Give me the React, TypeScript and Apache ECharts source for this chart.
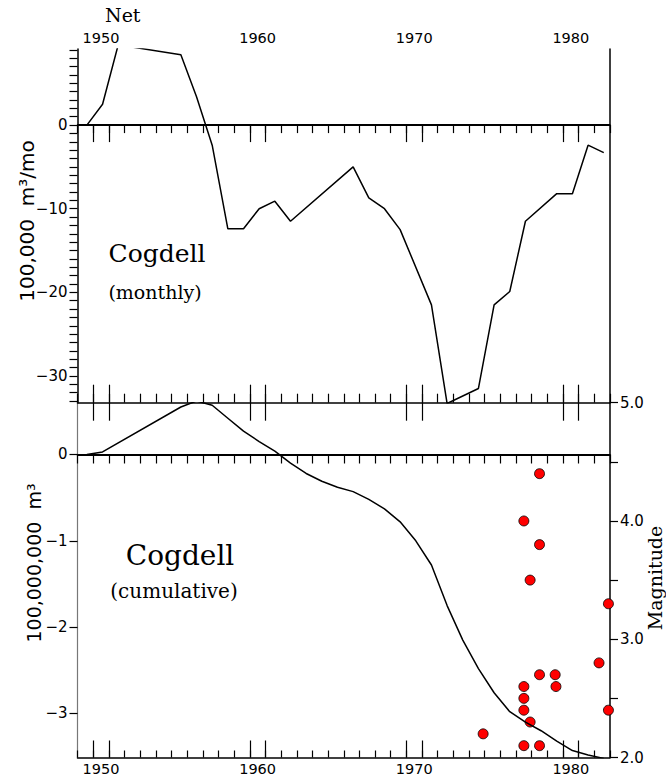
import React, { useEffect, useRef } from "react";
import * as echarts from "echarts";

// ---- data ----
const netYears = [1949.1, 1950.1, 1951.1, 1955.1, 1956.1, 1957.1, 1958.1, 1959.1, 1960.1, 1961.1, 1962.1, 1966.1, 1967.1, 1968.1, 1969.1, 1971.1, 1972.1, 1974.1, 1975.1, 1976.1, 1977.1, 1979.1, 1980.1, 1981.1, 1982.1];
const netValues = [0, 2.5, 9.6, 8.4, 3.4, -2.4, -12.4, -12.4, -10.0, -9.1, -11.5, -5.0, -8.7, -10.0, -12.5, -21.5, -33.3, -31.5, -21.5, -19.9, -11.5, -8.2, -8.2, -2.4, -3.3];

const cumYears = [1949.1, 1950.1, 1955.1, 1956.1, 1957.1, 1958.1, 1959.1, 1960.1, 1961.1, 1962.1, 1963.1, 1964.1, 1965.1, 1966.1, 1967.1, 1968.1, 1969.1, 1970.1, 1971.1, 1972.1, 1973.1, 1974.1, 1975.1, 1976.1, 1977.1, 1978.1, 1979.1, 1980.1, 1981.1, 1982.1];
const cumValues = [0, 0.03, 0.55, 0.62, 0.57, 0.42, 0.27, 0.15, 0.04, -0.1, -0.22, -0.31, -0.38, -0.43, -0.52, -0.63, -0.78, -1.0, -1.28, -1.75, -2.15, -2.48, -2.76, -2.98, -3.1, -3.2, -3.32, -3.43, -3.48, -3.52];

const quakeYears = [1978.0, 1977.0, 1978.0, 1977.4, 1982.4, 1981.8, 1978.0, 1979.0, 1977.0, 1979.05, 1977.0, 1977.0, 1982.4, 1977.4, 1974.4, 1977.0, 1978.0];
const quakeMags = [4.4, 4.0, 3.8, 3.5, 3.3, 2.8, 2.7, 2.7, 2.6, 2.6, 2.5, 2.4, 2.4, 2.3, 2.2, 2.1, 2.1];

const yearLabels = [1950, 1960, 1970, 1980];
const yearShortTicks = Array.from({ length: 35 }, (_, i) => 1948.5 + i);
const yearLongTicks = [1949.5, 1950.5, 1959.5, 1960.5, 1969.5, 1970.5, 1979.5, 1980.5];
const netTicks = Array.from({ length: 43 }, (_, i) => -33 + i);
const netLabels = [-30, -20, -10, 0];
const cumTicks = [-3, -2, -1, 0];
const magLabels = [2, 3, 4, 5];

const X_MIN = 1948.5;
const X_MAX = 1982.5;

const SANS = "DejaVu Sans";
const SERIF = "DejaVu Serif";

function minus(v: number) {
  return String(v).replace("-", "\u2212");
}

function xAx(grid: number, position: "top" | "bottom", opts: any) {
  return {
    type: "value",
    gridIndex: grid,
    position,
    min: X_MIN,
    max: X_MAX,
    splitLine: { show: false },
    axisLine: { show: opts.line ?? false, lineStyle: { color: "#000", width: 1.5 } },
    axisTick: {
      show: true,
      inside: true,
      length: opts.len,
      customValues: opts.ticks,
      lineStyle: { color: "#000", width: 1.2 },
    },
    axisLabel: opts.labels
      ? {
          show: true,
          customValues: yearLabels,
          formatter: (v: number) => String(v),
          color: "#000",
          fontFamily: SANS,
          fontSize: 14.5,
          margin: opts.margin ?? 5,
        }
      : { show: false },
  };
}

export default function App() {
  const ref = useRef<HTMLDivElement>(null);
  useEffect(() => {
    if (!ref.current) return;
    const chart = echarts.init(ref.current, undefined, { renderer: "svg" });
    const option: any = {
      animation: false,
      backgroundColor: "#fff",
      grid: [
        { left: 77.5, right: 56, top: 49, height: 353.7, containLabel: false, outerBoundsMode: "none" },
        { left: 77.5, right: 56, top: 402.7, height: 354.8, containLabel: false, outerBoundsMode: "none" },
      ],
      xAxis: [
        xAx(0, "top", { line: true, len: 8, ticks: yearShortTicks, labels: true, margin: 4 }),
        xAx(0, "top", { len: 17, ticks: yearLongTicks }),
        xAx(0, "bottom", { line: true, len: 9, ticks: yearShortTicks }),
        xAx(0, "bottom", { len: 18, ticks: yearLongTicks }),
        xAx(1, "top", { line: true, len: 9, ticks: yearShortTicks }),
        xAx(1, "top", { len: 18, ticks: yearLongTicks }),
        xAx(1, "bottom", { line: true, len: 7, ticks: yearShortTicks, labels: true, margin: 4 }),
        xAx(1, "bottom", { len: 17, ticks: yearLongTicks }),
      ],
      yAxis: [
        {
          type: "value",
          gridIndex: 0,
          position: "left",
          min: -33.2,
          max: 9.1,
          splitLine: { show: false },
          axisLine: { show: true, lineStyle: { color: "#000", width: 1.5 } },
          axisTick: { show: true, length: 8, customValues: netTicks, lineStyle: { color: "#000", width: 1.2 } },
          axisLabel: {
            show: true,
            customValues: netLabels,
            formatter: (v: number) => minus(v),
            color: "#000",
            fontFamily: SANS,
            fontSize: 15,
            margin: 10,
          },
        },
        {
          type: "value",
          gridIndex: 0,
          position: "right",
          min: -33.2,
          max: 9.1,
          splitLine: { show: false },
          axisLine: { show: true, lineStyle: { color: "#000", width: 1.5 } },
          axisTick: { show: false },
          axisLabel: { show: false },
        },
        {
          type: "value",
          gridIndex: 1,
          position: "left",
          min: -3.51,
          max: 0.6,
          splitLine: { show: false },
          axisLine: { show: true, lineStyle: { color: "#777", width: 1.2 } },
          axisTick: { show: true, length: 8, customValues: cumTicks, lineStyle: { color: "#000", width: 1.2 } },
          axisLabel: {
            show: true,
            customValues: cumTicks,
            formatter: (v: number) => minus(v),
            color: "#000",
            fontFamily: SANS,
            fontSize: 15,
            margin: 10,
          },
        },
        {
          type: "value",
          gridIndex: 1,
          position: "right",
          min: 2,
          max: 5,
          interval: 0.5,
          splitLine: { show: false },
          axisLine: { show: true, lineStyle: { color: "#000", width: 1.5 } },
          axisTick: { show: true, length: 8, lineStyle: { color: "#000", width: 1.2 } },
          axisLabel: {
            show: true,
            customValues: magLabels,
            formatter: (v: number) => v.toFixed(1),
            color: "#000",
            fontFamily: SANS,
            fontSize: 15,
            margin: 10,
          },
        },
      ],
      series: [
        {
          type: "line",
          xAxisIndex: 0,
          yAxisIndex: 0,
          data: netYears.map((x, i) => [x, netValues[i]]),
          symbol: "none",
          lineStyle: { color: "#000", width: 1.5 },
          markLine: {
            silent: true,
            symbol: "none",
            label: { show: false },
            lineStyle: { color: "#000", width: 2, type: "solid" },
            data: [{ yAxis: 0 }],
          },
        },
        {
          type: "line",
          xAxisIndex: 6,
          yAxisIndex: 2,
          data: cumYears.map((x, i) => [x, cumValues[i]]),
          symbol: "none",
          lineStyle: { color: "#000", width: 1.5 },
          markLine: {
            silent: true,
            symbol: "none",
            label: { show: false },
            lineStyle: { color: "#000", width: 1.8, type: "solid" },
            data: [{ yAxis: 0 }],
          },
        },
        {
          type: "scatter",
          xAxisIndex: 6,
          yAxisIndex: 3,
          clip: false,
          data: quakeYears.map((x, i) => [x, quakeMags[i]]),
          symbol: "circle",
          symbolSize: 10,
          itemStyle: { color: "#ff0000", borderColor: "#000", borderWidth: 0.8, opacity: 1 },
        },
      ],
      graphic: [
        { type: "text", left: 105, top: 5, style: { text: "Net", fontFamily: SERIF, fontSize: 19, fill: "#000" } },
        { type: "text", x: 157, y: 253, style: { text: "Cogdell", fontFamily: SERIF, fontSize: 25, fill: "#000", textAlign: "center", textVerticalAlign: "middle" } },
        { type: "text", x: 155, y: 292, style: { text: "(monthly)", fontFamily: SERIF, fontSize: 19, fill: "#000", textAlign: "center", textVerticalAlign: "middle" } },
        { type: "text", x: 180, y: 555, style: { text: "Cogdell", fontFamily: SERIF, fontSize: 28, fill: "#000", textAlign: "center", textVerticalAlign: "middle" } },
        { type: "text", x: 174, y: 591, style: { text: "(cumulative)", fontFamily: SERIF, fontSize: 20, fill: "#000", textAlign: "center", textVerticalAlign: "middle" } },
        { type: "text", x: 27, y: 221, rotation: Math.PI / 2, style: { text: "100,000  m\u00b3/mo", fontFamily: SANS, fontSize: 20, fill: "#000", textAlign: "center", textVerticalAlign: "middle" } },
        { type: "text", x: 34, y: 563, rotation: Math.PI / 2, style: { text: "100,000,000  m\u00b3", fontFamily: SANS, fontSize: 19, fill: "#000", textAlign: "center", textVerticalAlign: "middle" } },
        { type: "text", x: 655, y: 578, rotation: Math.PI / 2, style: { text: "Magnitude", fontFamily: SERIF, fontSize: 19, fill: "#000", textAlign: "center", textVerticalAlign: "middle" } },
      ],
    };
    chart.setOption(option);
    return () => chart.dispose();
  }, []);
  return <div ref={ref} style={{ position: "absolute", left: 0, top: 0, width: 666, height: 779 }} />;
}
